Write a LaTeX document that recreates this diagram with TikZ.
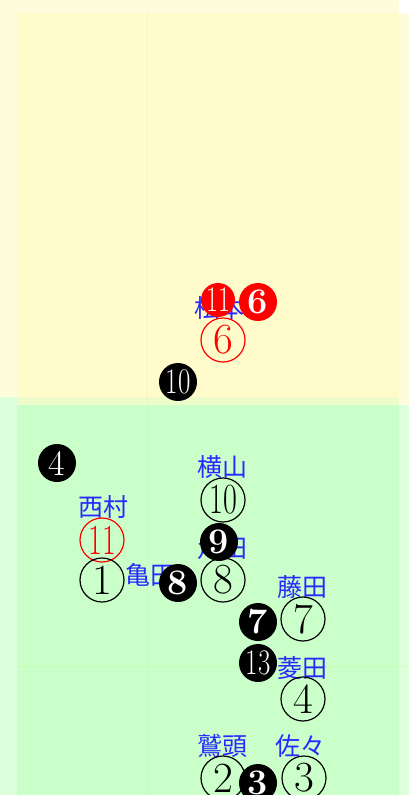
\documentclass[tikz,border=0pt]{standalone}
\usepackage{fontspec}
\newfontfamily\cjk{Noto Sans CJK JP}
\begin{document}
\begin{tikzpicture}[x=1pt,y=-1pt,
  ocirc/.style={circle, draw=black, line width=1.2pt, minimum size=44pt, inner sep=0pt, font=\fontsize{43}{43}\selectfont},
  ocircred/.style={ocirc, draw=red, text=red},
  fcirc/.style={circle, fill=black, text=white, minimum size=38pt, inner sep=0pt, font=\fontsize{36}{36}\selectfont\bfseries},
  fcircred/.style={fcirc, fill=red},
  lbl/.style={text={rgb,255:red,40;green,40;blue,255}, font=\cjk\fontsize{25}{25}\selectfont, inner sep=0pt},
  bgy/.style={fill=yellow!27, fill opacity=0.5, draw=none},
  bgg/.style={fill=green!27, fill opacity=0.5, draw=none},
  gridl/.style={draw=green!40!yellow, draw opacity=0.15, line width=0.8pt}
]
\useasboundingbox (0,0) rectangle (417,795);
\fill[white] (0,0) rectangle (417,795);
% background layers
\path[bgy] (0,0) rectangle (399,397);
\path[bgg] (0,397) rectangle (399,795);
\path[bgy] (17,13) rectangle (409,405);
\path[bgg] (17,405) rectangle (409,795);
\coordinate (v1) at (147,13);
\coordinate (v2) at (147,795);
\coordinate (h1) at (17,666);
\coordinate (h2) at (409,666);
\draw[gridl] (v1) -- (v2);
\draw[gridl] (h1) -- (h2);

% labels
\node[lbl] (lmatsu) at (219,308) {松本};
\node[lbl] (lyoko) at (222,467) {横山};
\node[lbl] (lnishi) at (103,507) {西村};
\node[lbl] (lkame) at (150,575) {亀田};
\node[lbl] (lkado) at (222,548) {角田};
\node[lbl] (lfuji) at (302,587) {藤田};
\node[lbl] (lhishi) at (302,668) {菱田};
\node[lbl] (lwashi) at (222,746) {鷲頭};
\node[lbl] (lsasa) at (300,746) {佐々};

% outline circles
\node[ocircred] (o6) at (223,340) {6};
\node[ocirc] (o10) at (223,500) {\scalebox{0.7}[1]{10}};
\node[ocircred] (o11) at (102,540) {\scalebox{0.7}[1]{11}};
\node[ocirc] (o1) at (102,580) {1};
\node[ocirc] (o8) at (223,580) {8};
\node[ocirc] (o7) at (303,619) {7};
\node[ocirc] (o4) at (303,699) {4};
\node[ocirc] (o2) at (223,778) {2};
\node[ocirc] (o3) at (304,778) {3};

% filled circles
\node[fcircred, minimum size=34pt] (f11) at (218,300) {\mdseries\scalebox{0.72}[1]{11}};
\node[fcircred] (f6) at (258,302) {6};
\node[fcirc] (f10) at (178,382) {\mdseries\scalebox{0.75}[1]{10}};
\node[fcirc] (f4) at (57,463) {\mdseries 4};
\node[fcirc] (f9) at (219,542) {9};
\node[fcirc] (f8) at (178,583) {8};
\node[fcirc] (f7) at (258,622) {7};
\node[fcirc] (f13) at (258,663) {\mdseries\scalebox{0.75}[1]{13}};
\node[fcirc] (f3) at (258,783) {3};
\end{tikzpicture}
\end{document}
